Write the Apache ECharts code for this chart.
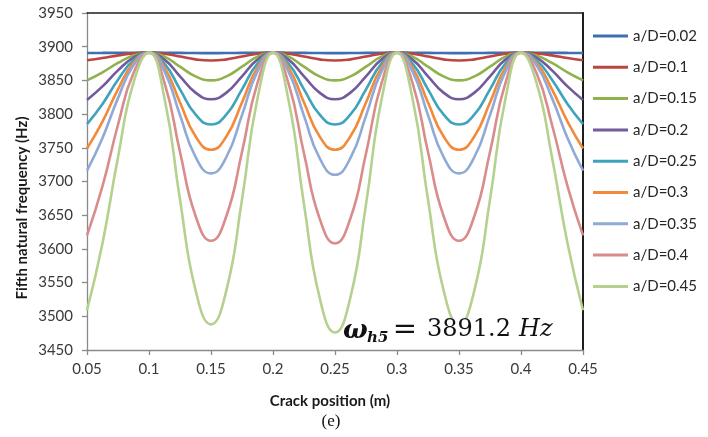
<!DOCTYPE html>
<html><head><meta charset="utf-8">
<script src="https://cdn.jsdelivr.net/npm/echarts@6/dist/echarts.min.js"></script>
<style>html,body{margin:0;padding:0;background:#fff}#c{width:708px;height:437px}</style>
</head><body><div id="c"></div>
<script>
// Crack position (m)
const xs = [0.05,0.0625,0.075,0.0875,0.1,0.1125,0.125,0.1375,0.15,0.1625,0.175,0.1875,0.2,0.2125,0.225,0.2375,0.25,0.2625,0.275,0.2875,0.3,0.3125,0.325,0.3375,0.35,0.3625,0.375,0.3875,0.4,0.4125,0.425,0.4375,0.45];
const xTicks = [0.05,0.1,0.15,0.2,0.25,0.3,0.35,0.4,0.45];
const yTicks = [3450,3500,3550,3600,3650,3700,3750,3800,3850,3900,3950];
const seriesNames = ['a/D=0.02','a/D=0.1','a/D=0.15','a/D=0.2','a/D=0.25','a/D=0.3','a/D=0.35','a/D=0.4','a/D=0.45'];
// Fifth natural frequency (Hz)
const a002 = [3890.6,3890.8,3891.0,3891.1,3891.2,3891.1,3890.9,3890.6,3890.5,3890.6,3890.9,3891.1,3891.2,3891.1,3890.9,3890.6,3890.5,3890.6,3890.9,3891.1,3891.2,3891.1,3890.9,3890.6,3890.5,3890.6,3890.9,3891.1,3891.2,3891.1,3891.0,3890.8,3890.6];
const a01 = [3880,3883.3,3887.1,3890.1,3891.2,3889.5,3885.4,3881.2,3879.5,3881.2,3885.4,3889.5,3891.2,3889.5,3885.4,3881.2,3879.5,3881.2,3885.4,3889.5,3891.2,3889.5,3885.4,3881.2,3879.5,3881.2,3885.4,3889.5,3891.2,3890.1,3887.1,3883.3,3880];
const a015 = [3850,3862.0,3876.0,3887.0,3891.2,3885.2,3870.4,3856.0,3850,3856.0,3870.4,3885.2,3891.2,3885.2,3870.4,3856.0,3850,3856.0,3870.4,3885.2,3891.2,3885.2,3870.4,3856.0,3850,3856.0,3870.4,3885.2,3891.2,3887.0,3876.0,3862.0,3850];
const a02 = [3821,3841.1,3864.9,3883.9,3891.2,3880.8,3856.1,3831.9,3822,3831.9,3856.1,3880.8,3891.2,3880.8,3856.1,3831.9,3822,3831.9,3856.1,3880.8,3891.2,3880.8,3856.1,3831.9,3822,3831.9,3856.1,3880.8,3891.2,3883.9,3864.9,3841.1,3821];
const a025 = [3785,3815.0,3851.0,3880.0,3891.2,3875.0,3836.7,3799.6,3784.5,3799.6,3836.7,3875.0,3891.2,3875.0,3836.7,3799.6,3784.5,3799.6,3836.7,3875.0,3891.2,3875.0,3836.7,3799.6,3784.5,3799.6,3836.7,3875.0,3891.2,3880.0,3851.0,3815.0,3785];
const a03 = [3749,3788.8,3836.8,3876.1,3891.2,3869.0,3817.1,3767.1,3747,3767.1,3817.1,3869.0,3891.2,3869.0,3817.1,3767.1,3747,3767.1,3817.1,3869.0,3891.2,3869.0,3817.1,3767.1,3747,3767.1,3817.1,3869.0,3891.2,3876.1,3836.8,3788.8,3749];
const a035 = [3716,3764.6,3823.7,3872.3,3891.2,3863.3,3798.5,3736.7,3712,3736.7,3798.5,3863.3,3891.2,3863.0,3797.4,3735.0,3710,3735.0,3797.4,3863.0,3891.2,3863.3,3798.5,3736.7,3712,3736.7,3798.5,3863.3,3891.2,3872.3,3823.7,3764.6,3716];
const a04 = [3620,3693.0,3784.2,3860.9,3891.2,3846.2,3743.8,3649.2,3612,3649.2,3743.8,3846.2,3891.2,3845.5,3741.6,3645.7,3608,3645.7,3741.6,3845.5,3891.2,3846.2,3743.8,3649.2,3612,3649.2,3743.8,3846.2,3891.2,3860.9,3784.2,3693.0,3620];
const a045 = [3509,3608.5,3736.0,3846.7,3891.2,3823.3,3673.1,3539.3,3488,3539.3,3673.1,3823.3,3891.2,3821.0,3666.1,3528.6,3476,3528.6,3666.1,3821.0,3891.2,3823.3,3673.1,3539.3,3488,3539.3,3673.1,3823.3,3891.2,3846.7,3736.0,3608.5,3509];
const allValues = [a002,a01,a015,a02,a025,a03,a035,a04,a045];
const colors = ['#3f6fb0','#bb4541','#8fb24c','#735a9c','#3ea4bd','#f28a3a','#8faad6','#d98c8b','#b4d18e'];

const FONT = 'Lato, "Open Sans", sans-serif';
const SERIF = '"DejaVu Serif", serif';
const chart = echarts.init(document.getElementById('c'), null, {renderer:'canvas'});
const baseX = {type:'value', min:xTicks[0], max:xTicks[xTicks.length-1], interval:0.05};
const baseY = {type:'value', min:yTicks[0], max:yTicks[yTicks.length-1], interval:50};
chart.setOption({
  animation:false,
  backgroundColor:'#fff',
  grid:{left:87, right:125, top:13, bottom:87, containLabel:false},
  xAxis:[
    Object.assign({}, baseX, {position:'bottom',
      axisLine:{show:true, lineStyle:{color:'#8a8a8a', width:1.3}},
      axisTick:{show:true, length:5, inside:false, lineStyle:{color:'#8a8a8a', width:1.3}},
      axisLabel:{margin:12, fontSize:15, color:'#3a3a3a', fontFamily:FONT,
        formatter:v=>String(+v.toFixed(2))},
      splitLine:{show:false}}),
    Object.assign({}, baseX, {position:'top',
      axisLine:{show:true, lineStyle:{color:'#1e1e1e', width:1.6}},
      axisTick:{show:false}, axisLabel:{show:false}, splitLine:{show:false}})
  ],
  yAxis:[
    Object.assign({}, baseY, {position:'left',
      axisLine:{show:true, lineStyle:{color:'#8a8a8a', width:1.3}},
      axisTick:{show:true, length:5, inside:false, lineStyle:{color:'#8a8a8a', width:1.3}},
      axisLabel:{margin:14, fontSize:15, color:'#3a3a3a', fontFamily:FONT,
        formatter:v=>String(v)},
      splitLine:{show:false}}),
    Object.assign({}, baseY, {position:'right',
      axisLine:{show:true, lineStyle:{color:'#1e1e1e', width:2}},
      axisTick:{show:false}, axisLabel:{show:false}, splitLine:{show:false}})
  ],
  legend:{
    orient:'vertical', left:588, top:23,
    icon:'rect', itemWidth:35, itemHeight:3, itemGap:15.3,
    textStyle:{fontSize:15, color:'#262626', fontFamily:FONT, lineHeight:16},
    data:seriesNames
  },
  series: seriesNames.map((n,i)=>({
    name:n, type:'line', symbol:'none', smooth:true,
    xAxisIndex:0, yAxisIndex:0,
    lineStyle:{width:2.6, color:colors[i]}, itemStyle:{color:colors[i]},
    data: xs.map((x,j)=>[x, allValues[i][j]])
  })),
  graphic:[
    {type:'text', x:22, y:208, rotation:Math.PI/2,
      style:{text:'Fifth natural frequency (Hz)', fontSize:15, fontWeight:'bold', fontFamily:FONT,
        fill:'#1a1a1a', align:'center', verticalAlign:'middle'}},
    {type:'text', x:330, y:401,
      style:{text:'Crack position (m)', fontSize:15, fontWeight:'bold', fontFamily:FONT,
        fill:'#1a1a1a', align:'center', verticalAlign:'middle'}},
    {type:'text', x:331, y:422,
      style:{text:'(e)', fontSize:17, fontFamily:'"Liberation Serif", serif',
        fill:'#111', align:'center', verticalAlign:'middle'}},
    {type:'rect', shape:{x:347, y:318, width:204, height:30}, style:{fill:'#fff'}, z:10},
    {type:'text', x:343, y:331, z:11,
      style:{text:'ω', fontSize:26, fontWeight:'bold', fontStyle:'italic', fontFamily:SERIF,
        fill:'#111', align:'left', verticalAlign:'middle'}},
    {type:'text', x:367, y:338, z:11,
      style:{text:'h5', fontSize:15, fontWeight:'bold', fontStyle:'italic', fontFamily:SERIF,
        fill:'#111', align:'left', verticalAlign:'middle'}},
    {type:'text', x:405, y:330, z:11,
      style:{text:'=', fontSize:29, fontFamily:SERIF,
        fill:'#111', align:'center', verticalAlign:'middle'}},
    {type:'text', x:427, y:330, z:11,
      style:{text:'3891.2', fontSize:24, fontFamily:SERIF,
        fill:'#111', align:'left', verticalAlign:'middle'}},
    {type:'text', x:519, y:330, z:11,
      style:{text:'Hz', fontSize:24, fontStyle:'italic', fontFamily:SERIF,
        fill:'#111', align:'left', verticalAlign:'middle'}}
  ]
});
</script></body></html>
